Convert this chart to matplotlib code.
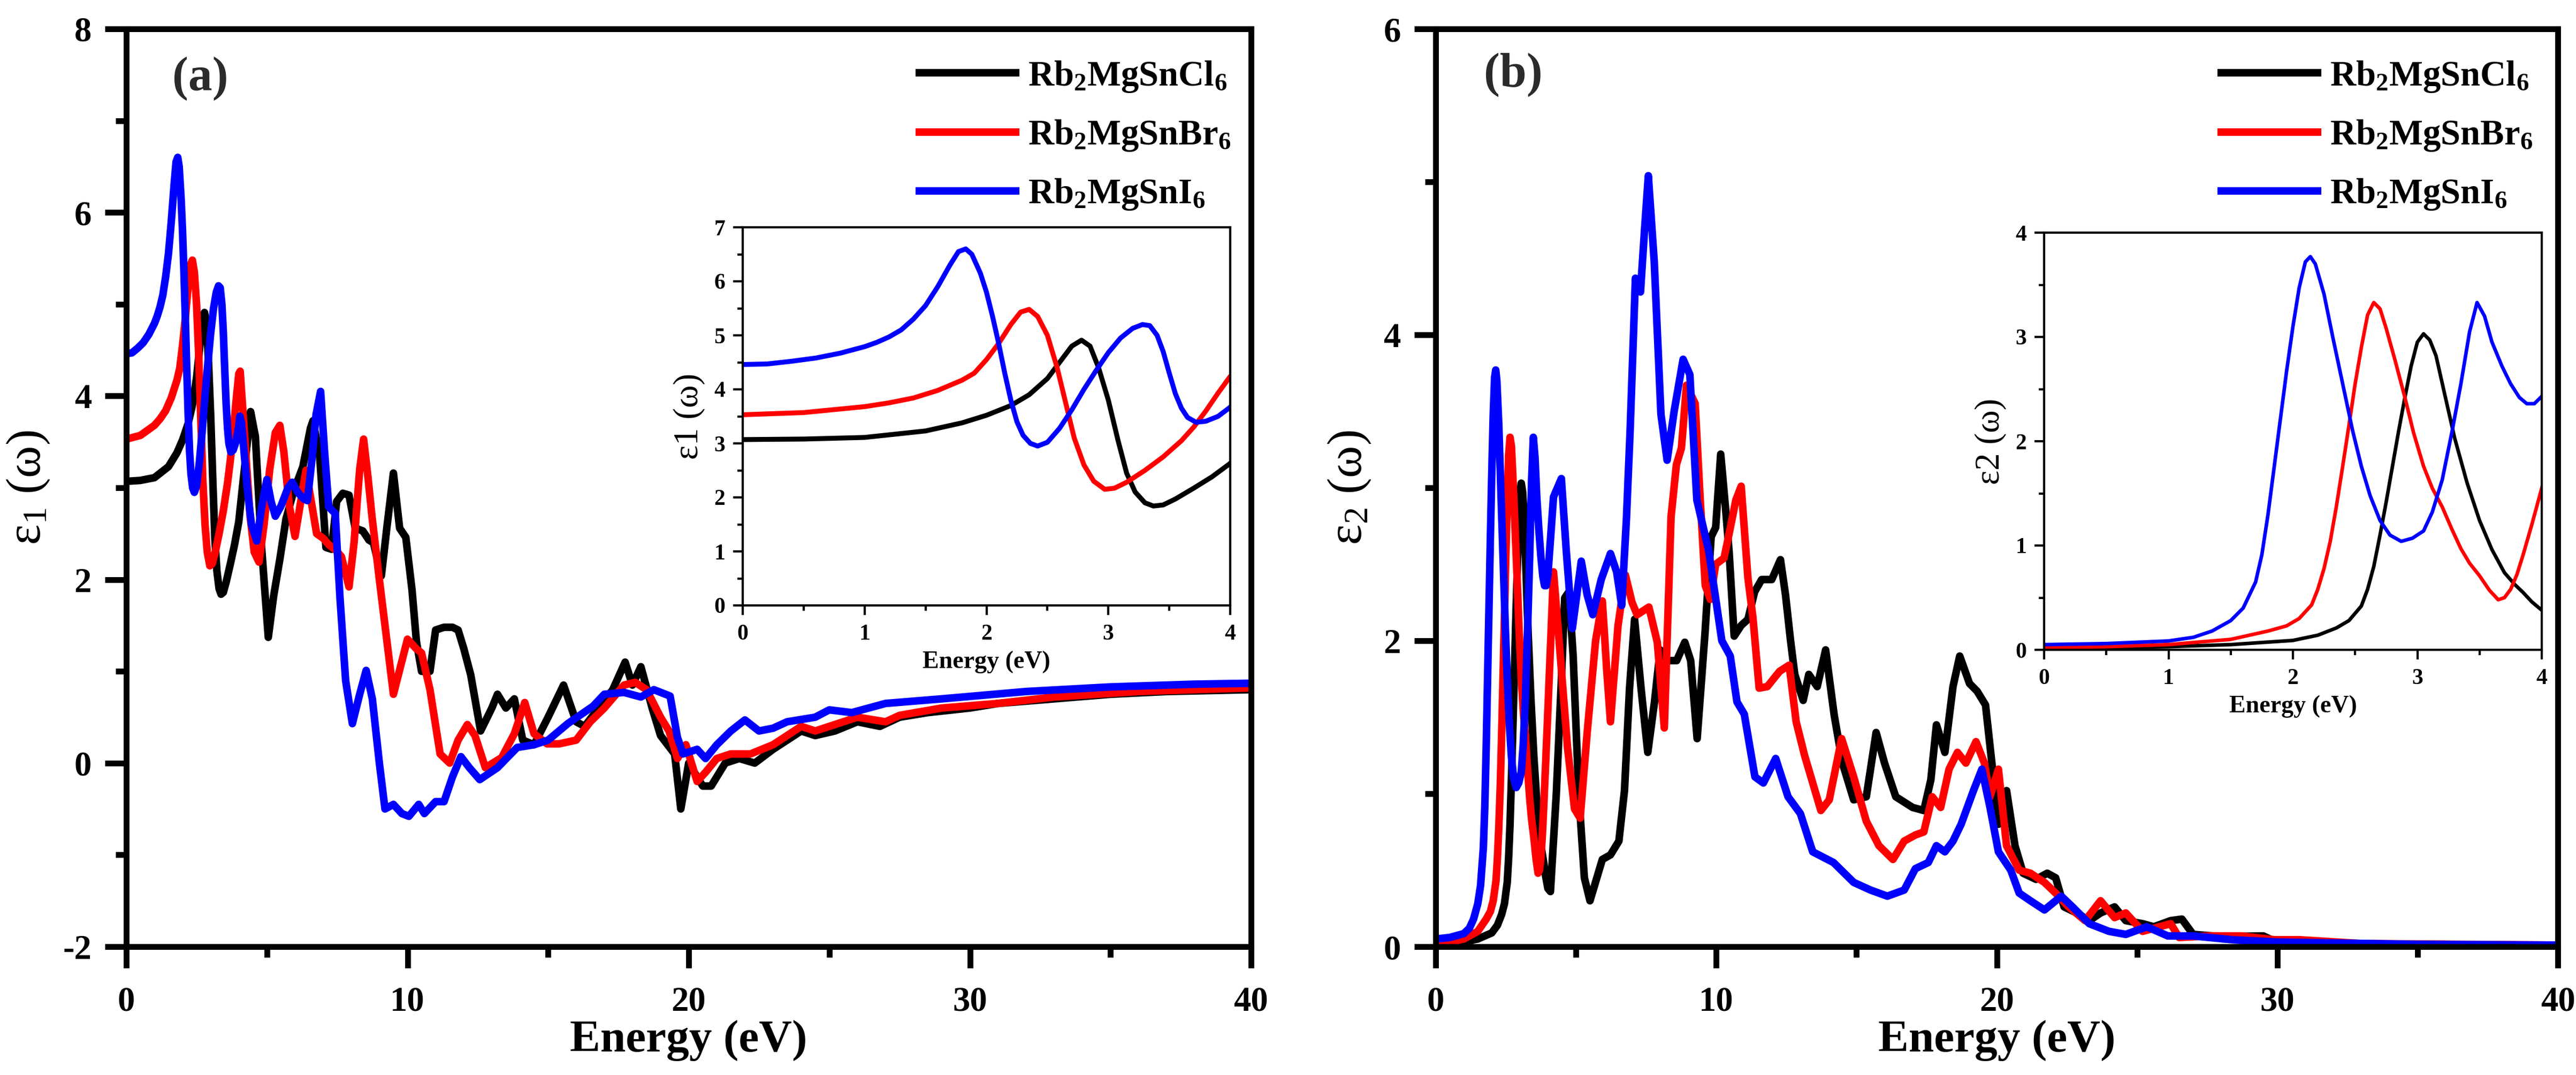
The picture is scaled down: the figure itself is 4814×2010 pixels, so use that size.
import matplotlib
matplotlib.use("Agg")
import matplotlib.pyplot as plt
from matplotlib.ticker import MultipleLocator

plt.rcParams['font.family'] = ['Liberation Serif', 'DejaVu Serif']
plt.rcParams['mathtext.fontset'] = 'custom'
plt.rcParams['mathtext.rm'] = 'Liberation Serif'
plt.rcParams['mathtext.bf'] = 'Liberation Serif:bold'
plt.rcParams['mathtext.it'] = 'Liberation Serif:italic'
plt.rcParams['axes.unicode_minus'] = False

# ---------------- data: epsilon_1 (panel a) ----------------
e1_cl_E = [0, 0.5, 1.0, 1.5, 1.8, 2.0, 2.2, 2.35, 2.5, 2.6, 2.7, 2.78, 2.85, 2.92, 3.0, 3.08, 3.15,
           3.22, 3.3, 3.37, 3.45, 3.55, 3.7, 3.85, 4.0,
           4.2, 4.42, 4.59, 4.8, 5.05, 5.24, 5.46, 5.68, 5.95, 6.28, 6.55, 6.64, 6.88, 7.1, 7.3,
           7.48, 7.7, 7.92, 8.14, 8.41, 8.63, 8.79, 9.07, 9.28, 9.5, 9.72, 9.94, 10.16, 10.32,
           10.5, 10.8, 11.0, 11.3, 11.6, 11.8, 12.0, 12.25, 12.6, 13.0, 13.2, 13.5, 13.8, 14.1,
           14.5, 15.0, 15.55, 16.0, 16.3, 16.8, 17.3, 17.74, 18.0, 18.3, 18.7, 19.0, 19.5, 19.72,
           20.0, 20.5, 20.8, 21.3, 21.8, 22.35, 23.0, 23.5, 24.0, 24.5, 25.2, 26.0, 26.8, 27.5,
           28.5, 30.0, 31.0, 33.0, 35.0, 37.0, 40.0]
e1_cl = [3.07, 3.08, 3.11, 3.23, 3.38, 3.52, 3.7, 3.9, 4.2, 4.5, 4.8, 4.91, 4.8, 4.4, 3.8, 3.05, 2.45,
         2.1, 1.9, 1.84, 1.86, 1.97, 2.17, 2.38, 2.63,
         3.2, 3.83, 3.56, 2.4, 1.37, 1.82, 2.22, 2.66, 2.96, 3.23, 3.65, 3.73, 3.33, 2.35, 2.33,
         2.85, 2.94, 2.92, 2.56, 2.53, 2.43, 2.4, 2.04, 2.6, 3.16, 2.56, 2.46, 1.89, 1.32,
         1.0, 1.0, 1.45, 1.48, 1.48, 1.45, 1.25, 0.96, 0.35, 0.6, 0.75, 0.6, 0.7, 0.25,
         0.2, 0.5, 0.85, 0.45, 0.4, 0.6, 0.8, 1.1, 0.85, 1.05, 0.6, 0.3, 0.1, -0.5,
         0.0, -0.25, -0.25, 0.0, 0.05, 0.0, 0.15, 0.25, 0.35, 0.3, 0.35, 0.45, 0.4, 0.5,
         0.55, 0.6, 0.65, 0.7, 0.75, 0.78, 0.8]

e1_br_E = [0, 0.5, 1.0, 1.2, 1.4, 1.6, 1.8, 1.9, 2.0, 2.1, 2.2, 2.28, 2.35, 2.42, 2.5, 2.58, 2.65,
           2.72, 2.8, 2.88, 2.97, 3.05, 3.15, 3.3, 3.45, 3.6, 3.7, 3.8, 3.9, 4.0, 4.05,
           4.2, 4.4, 4.55, 4.72, 4.9, 5.1, 5.3, 5.46, 5.6, 5.8, 6.0,
           6.15, 6.39, 6.55, 6.77, 7.0, 7.2, 7.45, 7.65, 7.92, 8.1, 8.3, 8.44, 8.6, 8.74, 9.0,
           9.28, 9.5, 9.75, 10.0, 10.3, 10.5, 10.8, 11.16, 11.5, 11.8, 12.13, 12.4, 12.77, 13.35,
           13.8, 14.17, 14.5, 14.96, 15.4, 16.0, 16.5, 17.0, 17.7, 18.1, 18.5, 19.0, 19.3, 19.6,
           19.9, 20.3, 20.6, 21.0, 21.5, 22.2, 23.0, 23.5, 24.0, 24.5, 25.0, 26.0, 27.0, 27.5,
           29.0, 31.0, 33.0, 36.0, 40.0]
e1_br = [3.53, 3.57, 3.68, 3.75, 3.84, 3.98, 4.17, 4.3, 4.55, 4.85, 5.2, 5.43, 5.48, 5.35, 5.0, 4.4, 3.75,
         3.1, 2.6, 2.3, 2.15, 2.17, 2.28, 2.5, 2.75, 3.05, 3.3, 3.6, 3.93, 4.24, 4.27,
         3.6, 2.7, 2.3, 2.19, 2.6, 3.2, 3.6, 3.68, 3.4, 2.8, 2.47,
         2.75, 3.19, 2.9, 2.5, 2.45, 2.38, 2.32, 2.25, 1.92, 2.4, 3.2, 3.53, 3.1, 2.68, 2.0,
         1.3, 0.75, 1.05, 1.35, 1.25, 1.2, 0.8, 0.1, 0.0, 0.25, 0.42, 0.3, -0.05, 0.06,
         0.32, 0.66, 0.32, 0.21, 0.21, 0.25, 0.45, 0.6, 0.85, 0.88, 0.8, 0.5, 0.35, 0.05,
         0.2, -0.2, -0.1, 0.05, 0.1, 0.1, 0.2, 0.3, 0.4, 0.35, 0.4, 0.5, 0.45, 0.52,
         0.6, 0.65, 0.72, 0.78, 0.82]

e1_i_E = [0, 0.2, 0.4, 0.6, 0.8, 1.0, 1.1, 1.2, 1.3, 1.4, 1.5, 1.6, 1.7, 1.77, 1.83, 1.88, 1.95,
          2.0, 2.05, 2.1, 2.15, 2.2, 2.25, 2.3, 2.36, 2.42, 2.5, 2.6, 2.7, 2.8, 2.9, 3.0, 3.1,
          3.2, 3.28, 3.34, 3.4, 3.45, 3.5, 3.55, 3.6, 3.65, 3.72, 3.8, 3.9, 4.0, 4.04, 4.1,
          4.3, 4.45, 4.64, 4.82, 5.0, 5.15, 5.3, 5.5, 5.75, 5.9, 6.1, 6.3, 6.44, 6.6, 6.75, 6.91,
          7.05, 7.2, 7.43, 7.6, 7.8, 8.04, 8.3, 8.53, 8.75, 9.0, 9.2, 9.5, 9.8, 10.05, 10.4,
          10.6, 11.0, 11.3, 11.6, 11.9, 12.2, 12.57, 13.2, 13.9, 14.5, 15.0, 15.7, 16.6, 17.0,
          17.7, 18.3, 18.76, 19.34, 19.6, 19.8, 20.3, 20.6, 21.0, 21.5, 22.0, 22.5, 23.0, 23.5,
          24.5, 25.0, 25.8, 27.0, 29.0, 32.0, 35.0, 38.0, 40.0]
e1_i = [4.46, 4.47, 4.52, 4.58, 4.67, 4.79, 4.87, 4.97, 5.1, 5.3, 5.55, 5.9, 6.3, 6.55, 6.6, 6.5, 6.15,
        5.8, 5.35, 4.85, 4.3, 3.8, 3.4, 3.15, 3.0, 2.95, 3.02, 3.28, 3.62, 4.0, 4.35, 4.68, 4.95,
        5.13, 5.2, 5.18, 5.0, 4.7, 4.3, 3.92, 3.65, 3.48, 3.39, 3.41, 3.5, 3.67, 3.78, 3.7,
        3.0, 2.6, 2.42, 2.8, 3.09, 2.85, 2.69, 2.8, 3.0, 3.06, 2.95, 2.88, 2.86, 3.3, 3.8, 4.05,
        3.4, 2.79, 2.72, 1.8, 0.9, 0.43, 0.75, 1.01, 0.7, 0.0, -0.5, -0.45, -0.55, -0.58, -0.45,
        -0.55, -0.42, -0.42, -0.15, 0.07, -0.05, -0.18, -0.05, 0.17, 0.2, 0.25, 0.43, 0.62, 0.75,
        0.77, 0.72, 0.8, 0.73, 0.28, 0.1, 0.15, 0.05, 0.2, 0.35, 0.47, 0.35, 0.38, 0.45,
        0.5, 0.58, 0.55, 0.65, 0.7, 0.78, 0.83, 0.86, 0.87]

# ---------------- data: epsilon_2 (panel b) ----------------
e2_cl_E = [0, 1.0, 1.5, 2.0, 2.2, 2.35, 2.45, 2.55, 2.6, 2.65, 2.7, 2.75, 2.8, 2.85, 2.9, 2.95, 3.0,
           3.05, 3.1, 3.15, 3.22, 3.3, 3.4, 3.5, 3.6, 3.7, 3.78, 3.85, 3.92,
           4.0, 4.09, 4.3, 4.47, 4.6, 4.75, 4.9, 5.1, 5.3, 5.5, 5.94, 6.23, 6.53, 6.73, 6.91, 7.09,
           7.32, 7.56, 7.8, 8.0, 8.29, 8.59, 8.88, 9.09, 9.32, 9.6, 9.82, 9.98, 10.16, 10.34, 10.46,
           10.64, 10.89, 11.13, 11.37, 11.62, 11.98, 12.29, 12.47, 12.65, 12.8, 13.1, 13.3, 13.6,
           13.9, 14.2, 14.5, 14.9, 15.35, 15.7, 16.0, 16.4, 17.0, 17.4, 17.65, 17.85, 18.15, 18.44,
           18.68, 19.03, 19.3, 19.6, 19.85, 20.06, 20.35, 20.65, 20.94, 21.4, 21.8, 22.1, 22.4,
           22.85, 23.3, 23.7, 24.2, 24.6, 25.2, 25.6, 26.2, 26.6, 27.0, 27.7, 28.4, 29.5, 29.9,
           32.0, 40.0]
e2_cl = [0.01, 0.03, 0.05, 0.09, 0.14, 0.21, 0.28, 0.42, 0.58, 0.8, 1.1, 1.42, 1.76, 2.1, 2.42, 2.72, 2.95,
         3.03, 2.97, 2.82, 2.45, 2.03, 1.6, 1.24, 0.96, 0.74, 0.63, 0.55, 0.46,
         0.38, 0.36, 1.0, 1.7, 2.28, 2.32, 1.9, 1.0, 0.45, 0.3, 0.57, 0.6, 0.69, 1.02, 1.69, 2.14,
         1.69, 1.27, 1.6, 1.94, 1.87, 1.87, 1.99, 1.87, 1.36, 2.05, 2.68, 2.74, 3.22, 2.85, 2.58,
         2.03, 2.1, 2.14, 2.32, 2.4, 2.4, 2.53, 2.3, 2.0, 1.78, 1.61, 1.78, 1.7,
         1.94, 1.52, 1.2, 0.96, 0.98, 1.4, 1.2, 0.98, 0.91, 0.89, 1.09, 1.45, 1.27, 1.7,
         1.9, 1.72, 1.67, 1.58, 1.16, 0.8, 1.02, 0.66, 0.48, 0.44, 0.48, 0.45, 0.26,
         0.22, 0.17, 0.22, 0.26, 0.17, 0.15, 0.13, 0.17, 0.18, 0.08, 0.07, 0.067, 0.07, 0.036,
         0.02, 0.008]

e2_br_E = [0, 0.5, 1.0, 1.5, 1.8, 1.95, 2.05, 2.15, 2.2, 2.25, 2.3, 2.35, 2.4, 2.45, 2.5, 2.55, 2.6,
           2.65, 2.7, 2.75, 2.82, 2.9, 2.97, 3.05, 3.12, 3.2, 3.28, 3.35, 3.42, 3.5, 3.58, 3.65,
           3.7, 3.75, 3.8, 3.85, 3.92, 4.0, 4.2, 4.4, 4.7, 4.95, 5.15, 5.4, 5.7, 5.94, 6.1, 6.23,
           6.5, 6.76, 7.0, 7.18, 7.6, 7.9, 8.15, 8.39, 8.58, 8.76, 8.94, 9.25, 9.43, 9.61, 9.79,
           9.98, 10.28, 10.46, 10.7, 10.89, 11.13, 11.31, 11.53, 11.82, 12.26, 12.6, 12.85, 13.15,
           13.44, 13.73, 14.03, 14.47, 14.9, 15.35, 15.8, 16.3, 16.7, 17.1, 17.4, 17.7, 18.0, 18.3,
           18.6, 18.9, 19.26, 19.56, 19.76, 20.06, 20.35, 20.8, 21.2, 21.7, 22.1, 22.56, 23.15,
           23.7, 24.2, 24.6, 25.2, 25.8, 26.2, 26.5, 27.6, 28.7, 29.9, 30.8, 33.0, 40.0]
e2_br = [0.02, 0.03, 0.05, 0.1, 0.18, 0.23, 0.3, 0.43, 0.58, 0.78, 1.04, 1.38, 1.76, 2.15, 2.55, 2.9, 3.21,
         3.33, 3.27, 3.08, 2.78, 2.42, 2.08, 1.76, 1.55, 1.37, 1.15, 0.97, 0.83, 0.71, 0.57, 0.48,
         0.5, 0.58, 0.72, 0.91, 1.2, 1.55, 2.45, 2.0, 1.3, 0.9, 0.84, 1.4, 2.0, 2.26, 1.8, 1.47,
         2.1, 2.43, 2.25, 2.17, 2.22, 1.99, 1.43, 2.81, 3.15, 3.26, 3.67, 3.55, 2.92, 2.36, 2.27,
         2.5, 2.54, 2.7, 2.92, 3.01, 2.41, 2.15, 1.69, 1.7, 1.8, 1.84, 1.47, 1.25,
         1.07, 0.89, 0.96, 1.36, 1.11, 0.82, 0.66, 0.57, 0.69, 0.73, 0.75, 0.98, 0.91, 1.16,
         1.27, 1.2, 1.34, 1.2, 0.98, 1.16, 0.66, 0.5, 0.48, 0.42, 0.35, 0.26, 0.17,
         0.3, 0.19, 0.22, 0.1, 0.13, 0.15, 0.06, 0.07, 0.07, 0.045, 0.045, 0.02, 0.01]

e2_i_E = [0, 0.5, 1.0, 1.2, 1.35, 1.5, 1.6, 1.7, 1.75, 1.8, 1.85, 1.9, 1.95, 2.0, 2.05, 2.1, 2.14,
          2.18, 2.25, 2.32, 2.4, 2.48, 2.55, 2.62, 2.7, 2.78, 2.87, 2.96, 3.05, 3.12, 3.2, 3.28,
          3.35, 3.42, 3.48, 3.54, 3.6, 3.68, 3.75, 3.82, 3.88, 3.94, 4.0, 4.2, 4.48, 4.65, 4.87,
          5.19, 5.4, 5.6, 5.9, 6.23, 6.45, 6.63, 6.8, 6.93, 7.12, 7.2, 7.3, 7.45, 7.58, 7.79,
          8.03, 8.25, 8.5, 8.82, 9.06, 9.31, 9.73, 10.2, 10.5, 10.74, 11.0, 11.38, 11.68, 12.12,
          12.56, 13.0, 13.44, 14.18, 14.9, 15.5, 16.1, 16.7, 17.1, 17.56, 17.85, 18.15, 18.44,
          18.73, 19.17, 19.47, 19.76, 20.06, 20.5, 20.8, 21.2, 21.7, 22.3, 22.7, 23.3, 24.0,
          24.6, 25.35, 26.1, 27.0, 28.4, 30.0, 35.0, 40.0]
e2_i = [0.05, 0.06, 0.085, 0.12, 0.18, 0.28, 0.4, 0.65, 0.91, 1.3, 1.76, 2.22, 2.68, 3.1, 3.47, 3.72, 3.77,
        3.7, 3.41, 3.0, 2.55, 2.1, 1.76, 1.48, 1.24, 1.1, 1.04, 1.07, 1.14, 1.32, 1.63, 2.1,
        2.55, 3.05, 3.33, 3.2, 2.95, 2.72, 2.55, 2.42, 2.36, 2.36, 2.43, 2.94, 3.06, 2.6, 2.08,
        2.52, 2.3, 2.17, 2.4, 2.57, 2.45, 2.23, 2.8, 3.37, 4.37, 4.3, 4.28, 4.7, 5.04, 4.48,
        3.48, 3.18, 3.5, 3.84, 3.74, 2.92, 2.59, 2.0, 1.9, 1.6, 1.52, 1.11, 1.07, 1.23,
        0.98, 0.87, 0.62, 0.55, 0.42, 0.37, 0.33, 0.37, 0.51, 0.55, 0.66, 0.62, 0.69,
        0.8, 1.02, 1.16, 0.91, 0.62, 0.5, 0.35, 0.3, 0.24, 0.33, 0.26, 0.15, 0.1,
        0.08, 0.13, 0.07, 0.07, 0.045, 0.03, 0.015, 0.01]

labels = [r'$\mathbf{Rb_2MgSnCl_6}$', r'$\mathbf{Rb_2MgSnBr_6}$', r'$\mathbf{Rb_2MgSnI_6}$']
colors = ['#000000', '#ff0000', '#0000ff']

W, H = 4814, 2010
fig = plt.figure(figsize=(W / 300, H / 300), dpi=300)


def fx(px):
    return px / W


def fy(py):
    return 1 - py / H


def style_main(ax):
    for s in ax.spines.values():
        s.set_linewidth(2.6)
    ax.tick_params(which='both', direction='out', width=2.6, top=False, right=False,
                   labelsize=15.5)
    ax.tick_params(which='major', length=9.6)
    ax.tick_params(which='minor', length=4.8)
    ax.tick_params(axis='x', which='both', pad=8)
    ax.tick_params(axis='y', which='both', pad=6)
    for lab in ax.get_xticklabels() + ax.get_yticklabels():
        lab.set_fontweight('bold')


def style_inset(ax):
    for s in ax.spines.values():
        s.set_linewidth(1.0)
    ax.tick_params(which='both', direction='out', width=1.0, top=False, right=False,
                   labelsize=10)
    ax.tick_params(which='major', length=4.3)
    ax.tick_params(which='minor', length=2.4)
    ax.tick_params(axis='x', which='both', pad=4)
    ax.tick_params(axis='y', which='both', pad=3.5)
    for lab in ax.get_xticklabels() + ax.get_yticklabels():
        lab.set_fontweight('bold')


panels = [
    dict(rect=[fx(236), fy(1770), fx(2338 - 236), (1770 - 54) / H],
         inset=[fx(1388), fy(1132), fx(2299 - 1388), (1132 - 425) / H],
         data=[(e1_cl_E, e1_cl), (e1_br_E, e1_br), (e1_i_E, e1_i)],
         ylim=(-2, 8), ymaj=2, ymin=1, iylim=(0, 7), iymaj=1, iymin=0.5,
         ylabel=r'$\mathrm{ε_1\ (ω)}$', iylabel='ε1 (ω)', tag='(a)', tagx=0.066, tagy=0.946,
         leg_x=0.705, ilw=2.2),
    dict(rect=[fx(2683), fy(1770), fx(4780 - 2683), (1770 - 54) / H],
         inset=[fx(3820), fy(1215), fx(4750 - 3820), (1215 - 435) / H],
         data=[(e2_cl_E, e2_cl), (e2_br_E, e2_br), (e2_i_E, e2_i)],
         ylim=(0, 6), ymaj=2, ymin=1, iylim=(0, 4), iymaj=1, iymin=0.5,
         ylabel=r'$\mathrm{ε_2\ (ω)}$', iylabel='ε2 (ω)', tag='(b)', tagx=0.069, tagy=0.95,
         leg_x=0.700, ilw=1.6),
]

for p in panels:
    ax = fig.add_axes(p['rect'])
    for (E, v), c, lab in zip(p['data'], colors, labels):
        ax.plot(E, v, color=c, lw=3.4, label=lab, solid_joinstyle='round')
    ax.set_xlim(0, 40)
    ax.set_ylim(*p['ylim'])
    ax.xaxis.set_major_locator(MultipleLocator(10))
    ax.xaxis.set_minor_locator(MultipleLocator(5))
    ax.yaxis.set_major_locator(MultipleLocator(p['ymaj']))
    ax.yaxis.set_minor_locator(MultipleLocator(p['ymin']))
    style_main(ax)
    ax.set_xlabel('Energy (eV)', fontsize=20.5, fontweight='bold', labelpad=1)
    ax.set_ylabel(p['ylabel'], fontsize=22, labelpad=5)
    ax.text(p['tagx'], p['tagy'], p['tag'], transform=ax.transAxes, fontsize=21.5,
            fontweight='bold', color='#2b2b2b', ha='center', va='center')
    leg = ax.legend(loc='upper left', bbox_to_anchor=(p['leg_x'], 0.967), frameon=False,
                    fontsize=16, handlelength=2.7, handletextpad=0.35, labelspacing=0.68,
                    borderpad=0, borderaxespad=0)
    for ln in leg.get_lines():
        ln.set_linewidth(3.4)

    ia = fig.add_axes(p['inset'])
    for (E, v), c in zip(p['data'], colors):
        ia.plot(E, v, color=c, lw=p['ilw'])
    ia.set_xlim(0, 4)
    ia.set_ylim(*p['iylim'])
    ia.xaxis.set_major_locator(MultipleLocator(1))
    ia.xaxis.set_minor_locator(MultipleLocator(0.5))
    ia.yaxis.set_major_locator(MultipleLocator(p['iymaj']))
    ia.yaxis.set_minor_locator(MultipleLocator(p['iymin']))
    style_inset(ia)
    ia.set_xlabel('Energy (eV)', fontsize=11, fontweight='bold', labelpad=3)
    ia.set_ylabel(p['iylabel'], fontsize=15.5, fontweight='normal', labelpad=4)

fig.savefig('out.png', dpi=300)
